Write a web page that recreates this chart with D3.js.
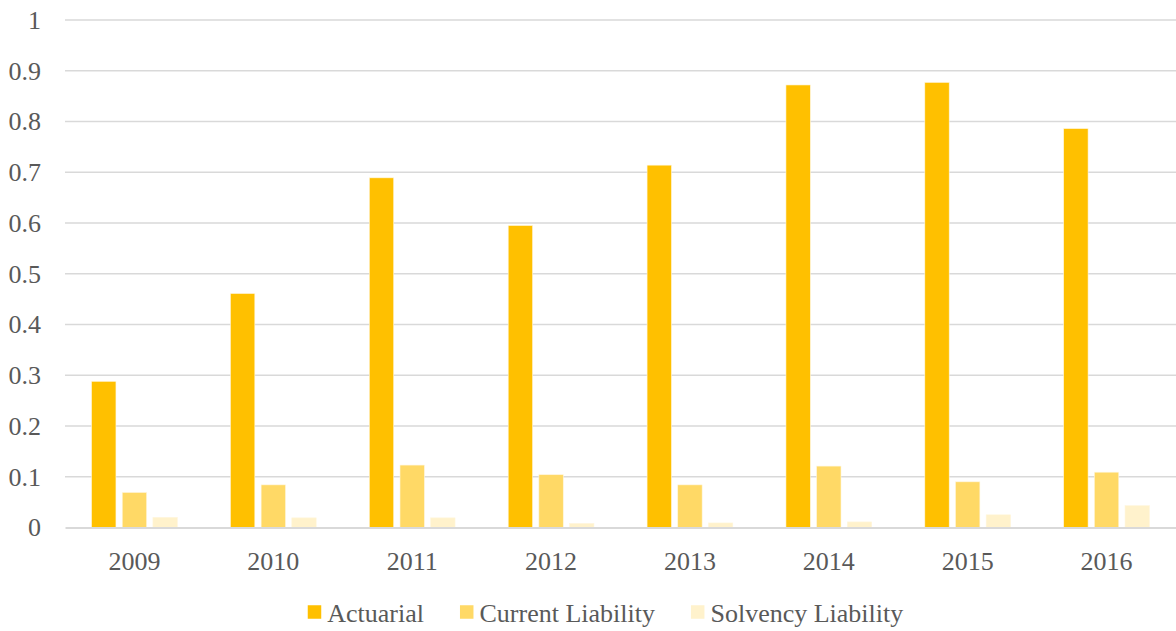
<!DOCTYPE html>
<html>
<head>
<meta charset="utf-8">
<script src="https://cdn.jsdelivr.net/npm/d3@7"></script>
<style>
  html, body { margin: 0; padding: 0; background: #fff; }
  svg { display: block; font-family: "Liberation Serif", "Times New Roman", serif; }
</style>
</head>
<body>
<svg id="chart" width="1176" height="631"></svg>
<script>
// Funding ratios by year, three liability measures
const years = ["2009", "2010", "2011", "2012", "2013", "2014", "2015", "2016"];
const seriesNames = ["Actuarial", "Current Liability", "Solvency Liability"];
const actuarial = [0.288, 0.461, 0.689, 0.595, 0.714, 0.872, 0.877, 0.786];
const currentLiability = [0.069, 0.084, 0.123, 0.104, 0.084, 0.121, 0.090, 0.109];
const solvencyLiability = [0.020, 0.019, 0.019, 0.008, 0.009, 0.011, 0.025, 0.043];
const yTicks = [0, 0.1, 0.2, 0.3, 0.4, 0.5, 0.6, 0.7, 0.8, 0.9, 1];
const colors = ["#FFC000", "#FFD966", "#FFF2CC"];

const seriesValues = [actuarial, currentLiability, solvencyLiability];
const rows = years.map((yr, i) => ({
  year: yr,
  values: seriesNames.map((name, s) => ({ name, s, value: seriesValues[s][i] }))
}));

const svg = d3.select("#chart");
const margin = { left: 65, right: 0, top: 20, bottom: 103.5 };
const W = 1176, H = 631;

const x0 = d3.scaleBand().domain(years).range([margin.left, W - margin.right]).paddingInner(0).paddingOuter(0);
const x1 = d3.scaleBand().domain(seriesNames).range([0, x0.bandwidth()]).paddingInner(0.205).paddingOuter(0.866);
const y = d3.scaleLinear().domain([0, 1]).range([H - margin.bottom, margin.top]);

const textColor = "#595959";

// horizontal gridlines
svg.append("g")
  .selectAll("line")
  .data(yTicks.filter(d => d > 0))
  .join("line")
  .attr("x1", margin.left).attr("x2", W - margin.right)
  .attr("y1", d => y(d)).attr("y2", d => y(d))
  .attr("stroke", "#d9d9d9").attr("stroke-width", 1.4);

// y-axis labels
const yAxis = d3.axisLeft(y).tickValues(yTicks).tickFormat(d => d3.format("")(+d.toFixed(1))).tickSize(0).tickPadding(24);
const yg = svg.append("g").attr("transform", `translate(${margin.left},0)`).call(yAxis);
yg.select(".domain").remove();
yg.selectAll("text").attr("font-size", 26).attr("fill", textColor)
  .attr("font-family", "'Liberation Serif', 'Times New Roman', serif");

// bars
const groups = svg.append("g").selectAll("g")
  .data(rows)
  .join("g")
  .attr("transform", d => `translate(${x0(d.year)},0)`);

groups.selectAll("rect")
  .data(d => d.values)
  .join("rect")
  .attr("x", d => x1(d.name))
  .attr("width", x1.bandwidth())
  .attr("y", d => y(d.value))
  .attr("height", d => y(0) - y(d.value))
  .attr("fill", d => colors[d.s])
  .attr("stroke", "#fff6dc")
  .attr("stroke-width", 0.6);

// baseline / x axis
const xAxis = d3.axisBottom(x0).tickSize(0).tickPadding(24);
const xg = svg.append("g").attr("transform", `translate(0,${y(0)})`).call(xAxis);
xg.select(".domain").attr("stroke", "#d9d9d9").attr("stroke-width", 2);
xg.selectAll("text").attr("font-size", 26).attr("fill", textColor)
  .attr("font-family", "'Liberation Serif', 'Times New Roman', serif");

// legend
const legend = svg.append("g");
const sq = 13.5, gapText = 6, gapItem = 36, legendY = 613;
let cursor = 0;
const items = seriesNames.map((name, s) => {
  const g = legend.append("g");
  g.append("rect").attr("width", sq).attr("height", sq).attr("y", legendY - sq / 2 - 1).attr("fill", colors[s]);
  const t = g.append("text").attr("x", sq + gapText).attr("y", legendY).attr("dy", "0.35em")
    .attr("font-size", 26).attr("fill", textColor).text(name);
  const w = sq + gapText + t.node().getComputedTextLength();
  g.attr("transform", `translate(${cursor},0)`);
  cursor += w + gapItem;
  return g;
});
const totalW = cursor - gapItem;
legend.attr("transform", `translate(${605.5 - totalW / 2},0)`);
</script>
</body>
</html>
